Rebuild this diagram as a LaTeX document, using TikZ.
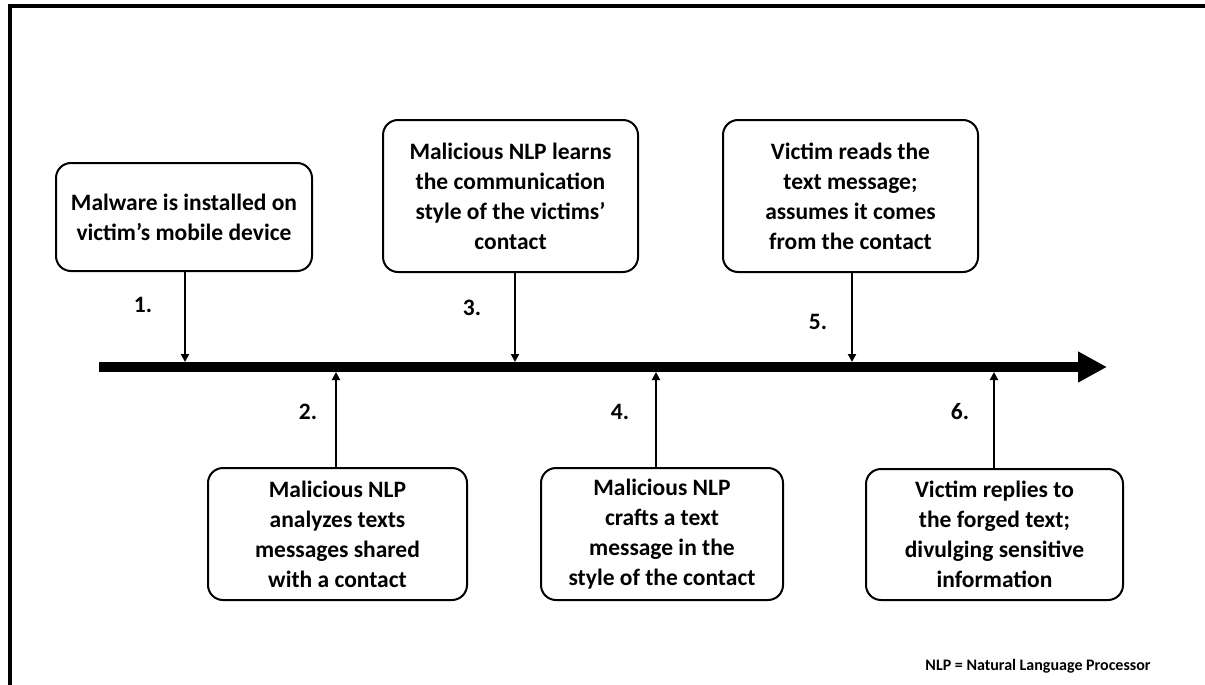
\documentclass[tikz,border=0pt]{standalone}
\usepackage{fontspec}
\setmainfont{Carlito}
\usetikzlibrary{arrows.meta,positioning}
\tikzset{
  event/.style={draw,line width=2pt,rounded corners=15pt,align=center,
    minimum width=256pt,inner sep=3pt,font=\bfseries\fontsize{23.5}{30}\selectfont},
  stepno/.style={font=\bfseries\fontsize{23.5}{26}\selectfont,inner sep=1pt},
  push/.style={-{Triangle[length=8pt,width=8pt]},line width=2.5pt},
  timeline/.style={-{Triangle[length=29pt,width=29pt]},line width=10pt},
  frameline/.style={line width=4pt},
  note/.style={font=\bfseries\fontsize{16}{18}\selectfont,inner sep=1pt}
}

\begin{document}
\begin{tikzpicture}[x=1pt,y=-1pt]
  \useasboundingbox (0,0) rectangle (1205,685);
  \draw[frameline] (9.5,685) -- (9.5,6.5) -- (1205,6.5);

  % time line
  \coordinate (start) at (99,367);
  \coordinate (end) at (1107,367);
  \draw[timeline] (start) -- (end);

  % events above the line
  \node[event,minimum height=108pt] (e1) at (184,217)
    {Malware is installed on\\victim's mobile device};
  \node[event,minimum width=255pt,minimum height=152pt] (e3) at (510.5,196)
    {Malicious NLP learns\\the communication\\style of the victims'\\contact};
  \node[event,minimum width=255pt,minimum height=152pt] (e5) at (850.5,196)
    {Victim reads the\\text message;\\assumes it comes\\from the contact};

  % events below the line
  \node[event,minimum width=259pt,minimum height=132pt] (e2) at (337.5,534)
    {Malicious NLP\\analyzes texts\\messages shared\\with a contact};
  \node[event,minimum width=242pt,minimum height=132pt] (e4) at (662,534)
    {Malicious NLP\\crafts a text\\message in the\\style of the contact};
  \node[event,minimum width=257pt,minimum height=131pt] (e6) at (994.5,534.5)
    {Victim replies to\\the forged text;\\divulging sensitive\\information};

  % points on the line
  \foreach \i/\x in {1/185,3/515,5/852} \coordinate (p\i) at (\x,362);
  \foreach \i/\x in {2/336,4/656,6/994} \coordinate (p\i) at (\x,372);

  \foreach \i in {1,3,5} \draw[push] (p\i |- e\i.south) -- (p\i);
  \foreach \i in {2,4,6} \draw[push] (p\i |- e\i.north) -- (p\i);

  % step numbers
  \node[stepno] (n1) at (143,305) {1.};
  \node[stepno] (n2) at (308,412) {2.};
  \node[stepno] (n3) at (472,308) {3.};
  \node[stepno] (n4) at (620,412) {4.};
  \node[stepno] (n5) at (818,322) {5.};
  \node[stepno] (n6) at (960,412) {6.};

  \node[note] (legend) at (1038,666) {NLP = Natural Language Processor};
\end{tikzpicture}
\end{document}
